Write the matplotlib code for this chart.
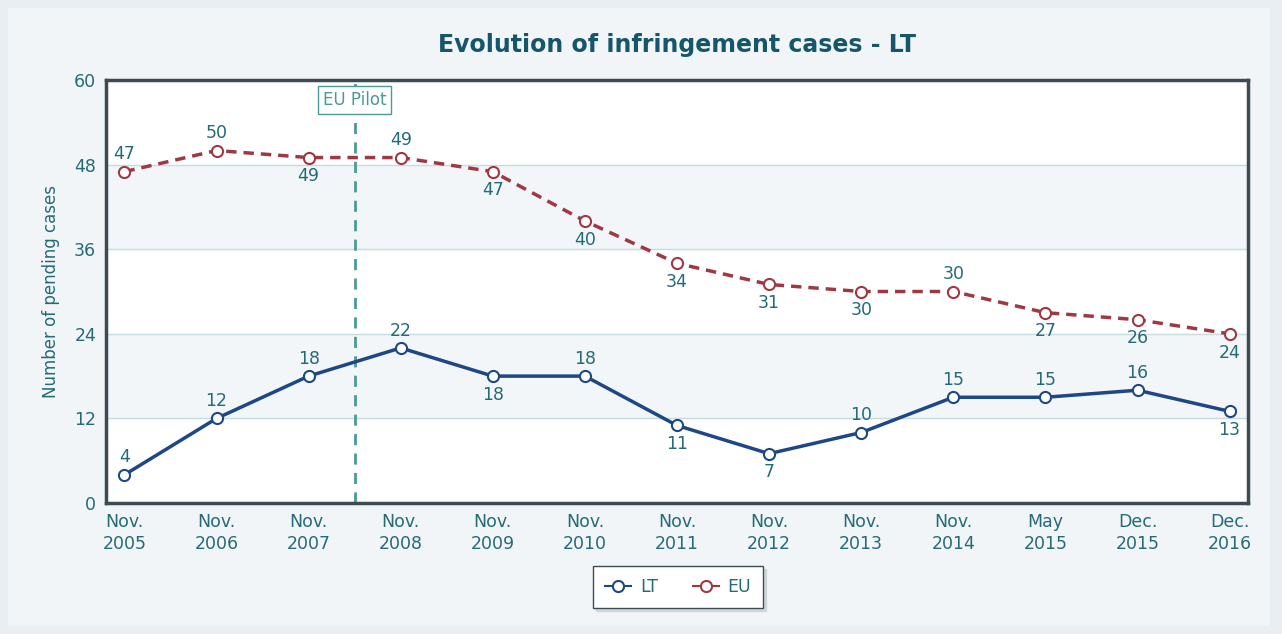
import matplotlib.pyplot as plt
from matplotlib.patches import Rectangle
from matplotlib.lines import Line2D

# Data
periods = ['Nov.\n2005', 'Nov.\n2006', 'Nov.\n2007', 'Nov.\n2008', 'Nov.\n2009',
           'Nov.\n2010', 'Nov.\n2011', 'Nov.\n2012', 'Nov.\n2013', 'Nov.\n2014',
           'May\n2015', 'Dec.\n2015', 'Dec.\n2016']
lt_cases = [4, 12, 18, 22, 18, 18, 11, 7, 10, 15, 15, 16, 13]
eu_cases = [47, 50, 49, 49, 47, 40, 34, 31, 30, 30, 27, 26, 24]
y_ticks = [0, 12, 24, 36, 48, 60]

# label placement (above / below the marker)
lt_label_pos = ['a', 'a', 'a', 'a', 'b', 'a', 'b', 'b', 'a', 'a', 'a', 'a', 'b']
eu_label_pos = ['a', 'a', 'b', 'a', 'b', 'b', 'b', 'b', 'b', 'a', 'b', 'b', 'b']

COLORS = {
    'lt': '#1e4785',
    'eu': '#a03843',
    'text': '#256a78',
    'title': '#15566a',
    'spine': '#3e4b52',
    'grid': '#c5dce0',
    'band': '#f2f6f8',
    'bg_outer': '#e8eef1',
    'bg_inner': '#f1f5f7',
    'pilot': '#4a9a98',
}

fig = plt.figure(figsize=(12.82, 6.34), dpi=100)
fig.patch.set_facecolor(COLORS['bg_outer'])
fig.patches.append(Rectangle((0.006, 0.012), 0.985, 0.976, transform=fig.transFigure,
                             facecolor=COLORS['bg_inner'], edgecolor='none', zorder=-5))

ax = fig.add_axes([0.0827, 0.2066, 0.8908, 0.6672])
ax.set_facecolor('white')

x = list(range(len(periods)))
ax.set_xlim(-0.2, len(periods) - 0.8)
ax.set_ylim(0, 60)

# alternating bands
for i in range(len(y_ticks) - 1):
    if i % 2 == 1:
        ax.axhspan(y_ticks[i], y_ticks[i + 1], color=COLORS['band'], zorder=0)
for t in y_ticks[1:-1]:
    ax.axhline(t, color=COLORS['grid'], lw=1, zorder=1)

# EU Pilot marker
ax.axvline(2.5, color=COLORS['pilot'], lw=2, ls=(0, (4, 3)), zorder=2)
ax.text(2.5, 58.5, 'EU Pilot', ha='center', va='top', fontsize=12, color=COLORS['pilot'],
        bbox=dict(boxstyle='square,pad=0.3', facecolor='white', edgecolor=COLORS['pilot'], lw=1),
        zorder=5)

ax.plot(x, lt_cases, color=COLORS['lt'], lw=2.5, marker='o', markersize=8,
        markerfacecolor='white', markeredgecolor=COLORS['lt'], markeredgewidth=1.5, zorder=4)
ax.plot(x, eu_cases, color=COLORS['eu'], lw=2.5, ls=(0, (3, 2)), marker='o', markersize=8,
        markerfacecolor='white', markeredgecolor=COLORS['eu'], markeredgewidth=1.5, zorder=4)

for xi, v, p in zip(x, lt_cases, lt_label_pos):
    ax.annotate(str(v), (xi, v), xytext=(0, 6 if p == 'a' else -7), textcoords='offset points',
                ha='center', va='bottom' if p == 'a' else 'top', fontsize=12.5, color=COLORS['text'])
for xi, v, p in zip(x, eu_cases, eu_label_pos):
    ax.annotate(str(v), (xi, v), xytext=(0, 6 if p == 'a' else -7), textcoords='offset points',
                ha='center', va='bottom' if p == 'a' else 'top', fontsize=12.5, color=COLORS['text'])

ax.set_xticks(x)
ax.set_xticklabels(periods, fontsize=12.5, color=COLORS['text'], linespacing=1.3)
ax.set_yticks(y_ticks)
ax.set_yticklabels([str(t) for t in y_ticks], fontsize=12.5, color=COLORS['text'])
ax.tick_params(length=0, pad=7)
for s in ax.spines.values():
    s.set_color(COLORS['spine'])
    s.set_linewidth(2.5)

ax.set_ylabel('Number of pending cases', fontsize=12, color=COLORS['text'], labelpad=10)
ax.set_title('Evolution of infringement cases - LT', fontsize=17, fontweight='bold',
             color=COLORS['title'], pad=20)

handles = [
    Line2D([], [], color=COLORS['lt'], lw=1.5, marker='o', markersize=8,
           markerfacecolor='white', markeredgewidth=1.5),
    Line2D([], [], color=COLORS['eu'], lw=1.5, marker='o', markersize=8,
           markerfacecolor='white', markeredgewidth=1.5),
]
leg = fig.legend(handles, ['LT', 'EU'], loc='center', bbox_to_anchor=(0.529, 0.074), ncol=2,
                 fontsize=12.5, frameon=True, fancybox=False, shadow={'color': '#b8c2c6'},
                 handlelength=1.5, columnspacing=2.0, borderpad=0.7, handletextpad=0.5)
leg.get_frame().set_edgecolor(COLORS['spine'])
leg.get_frame().set_linewidth(1)
for t in leg.get_texts():
    t.set_color(COLORS['text'])

plt.savefig('out.png', dpi=100, facecolor=fig.get_facecolor())
